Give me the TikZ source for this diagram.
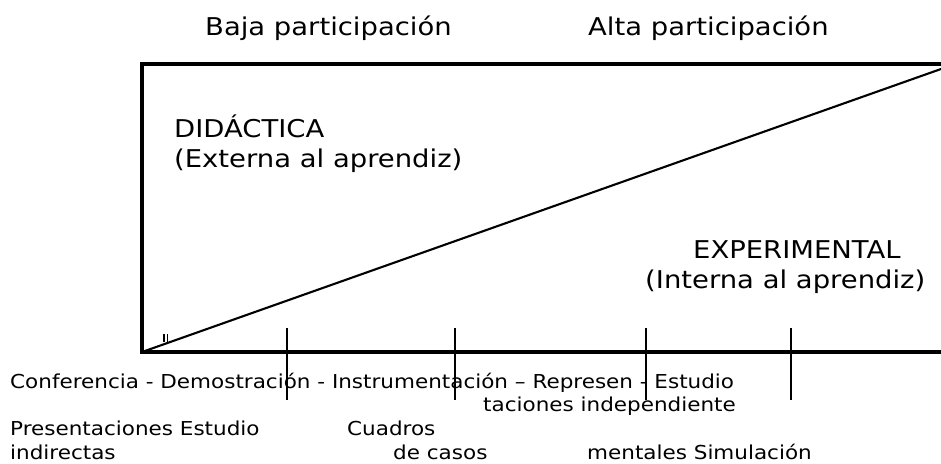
\documentclass[tikz,border=0pt]{standalone}
\usepackage{fontspec}
\setmainfont{DejaVu Sans}[FakeStretch=1.12]
\usepackage{tikz}
\usetikzlibrary{positioning}
\tikzset{
  lbl/.style={font=\fontsize{19.2}{23}\selectfont, inner sep=0pt, anchor=base west},
  head/.style={lbl, font=\fontsize{24.5}{29}\selectfont},
  tick/.style={line width=1.8pt},
}

\begin{document}
\begin{tikzpicture}[x=1pt, y=-1pt]
  \useasboundingbox (0,0) rectangle (941,463);
  % frame and diagonal
  \draw[line width=3.2pt] (941,64) -- (142,64) -- (142,352) -- (941,352);
  \draw[line width=2.1pt] (142,352) -- (941,69);
  \draw[line width=1.5pt] (164,334) -- (164,342) (167.5,334) -- (167.5,342);
  % divisions
  \foreach \x in {287,455,646,791}
    \draw[tick] (\x,328) -- (\x,400);
  % headings
  \node[head] (baja) at (205,35) {Baja participación};
  \node[head] (alta) at (588,35) {Alta participación};
  \node[head] (did) at (174,137) {DIDÁCTICA};
  \node[head] (ext) at (174,167) {(Externa al aprendiz)};
  \node[head] (exp) at (693,258) {EXPERIMENTAL};
  \node[head] (int) at (645,288) {(Interna al aprendiz)};
  % methods
  \node[lbl] (row1) at (10,388) {Conferencia - Demostración - Instrumentación – Represen - Estudio};
  \node[lbl] (row2) at (483,411) {taciones independiente};
  \node[lbl] (pres) at (10,435) {Presentaciones Estudio};
  \node[lbl] (ind) at (10,459) {indirectas};
  \node[lbl] (cua) at (347,435) {Cuadros};
  \node[lbl] (cas) at (393,459) {de casos};
  \node[lbl] (men) at (587,459) {mentales Simulación};
\end{tikzpicture}
\end{document}
